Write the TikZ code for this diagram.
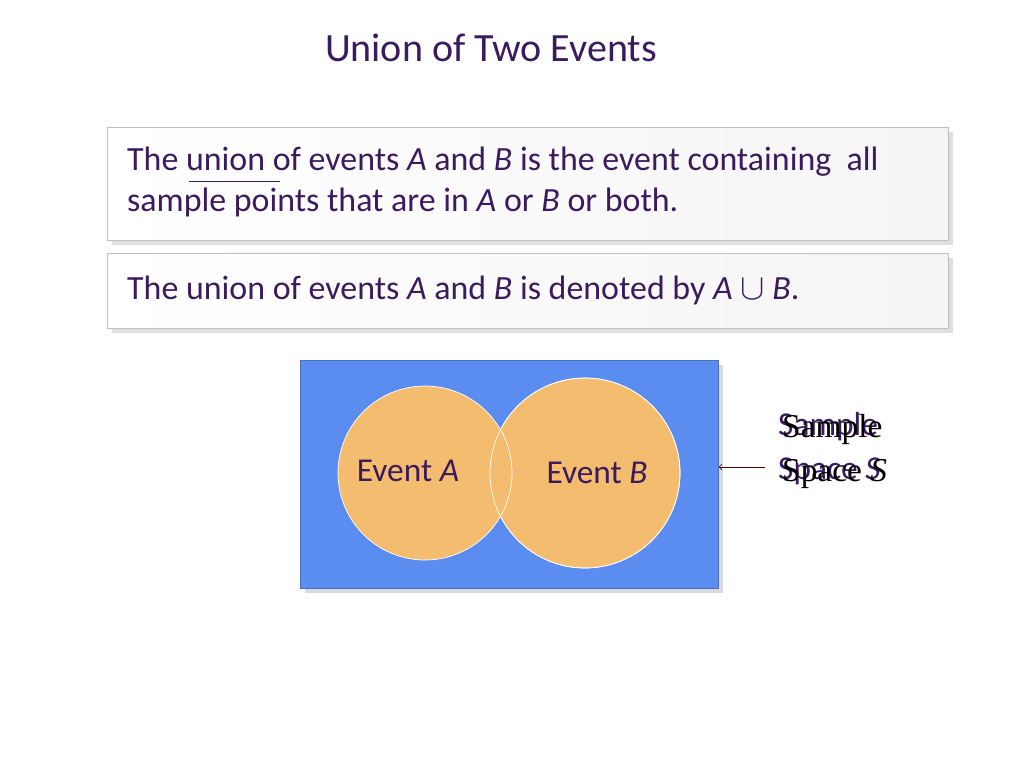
\documentclass[tikz,border=0pt]{standalone}
\usepackage{fontspec}
\setmainfont{Carlito}
\newfontfamily\serifsym{Liberation Serif}
\usetikzlibrary{shadows}
\definecolor{txtpurple}{HTML}{3B1A5E}
\definecolor{spaceblue}{HTML}{5B8CEF}
\definecolor{eventorange}{HTML}{F4BC6E}
\begin{document}
\begin{tikzpicture}[x=0.02cm,y=-0.02cm,
        textbox/.style={draw=black!25, fill=white, drop shadow={opacity=0.25},
            left color=white, right color=black!4, anchor=north west,
            inner sep=0pt},
        eventcircle/.style={circle, draw=white, fill=eventorange, inner sep=0pt}
    ]
    \useasboundingbox (0,0) rectangle (1024,768);
    \node[text=txtpurple, font=\fontsize{22.8}{26}\selectfont] (title) at (491,48) {Union of Two Events};
    % definition boxes
    \node[textbox, minimum width=841*0.02cm, minimum height=113*0.02cm] (def) at (107,127) {};
    \node[text=txtpurple, anchor=west, align=left, font=\fontsize{19.3}{23}\selectfont] (deftext) at (121,182)
        {The union of events \textit{A} and \textit{B} is the event containing\ \ all\\sample points that are in \textit{A} or \textit{B} or both.};
    \draw[txtpurple] (189,181) -- (280,181);
    \node[textbox, minimum width=841*0.02cm, minimum height=75*0.02cm] (note) at (107,253) {};
    \node[text=txtpurple, anchor=west, font=\fontsize{19.3}{23}\selectfont] (notetext) at (121,290)
        {The union of events \textit{A} and \textit{B} is denoted by \textit{A} $\cup$ \textit{B}.};
    % sample space
    \node[draw=spaceblue!80!black, fill=spaceblue, minimum width=418*0.02cm, minimum height=228*0.02cm,
        anchor=north west, drop shadow={opacity=0.3}] (space) at (300,360) {};
    \node[eventcircle, minimum size=190*0.02cm] (evB) at (585,473) {};
    \node[eventcircle, minimum size=174*0.02cm] (evA) at (425,473) {};
    \draw[white] (evB.center) circle (95);
    \node[text=txtpurple, font=\fontsize{19}{22}\selectfont] (labA) at (408,471) {Event \textit{A}};
    \node[text=txtpurple, font=\fontsize{19}{22}\selectfont] (labB) at (597,473) {Event \textit{B}};
    % label of S
    \node[anchor=west, align=left, text=txtpurple, font=\fontsize{19}{25}\selectfont] (lblS) at (772,449) {Sample\\Space \textit{S}};
    \node[anchor=west, align=left, font=\serifsym\fontsize{19}{25}\selectfont] (lblSserif) at (776,451) {Sample\\Space \textit{S}};
    \coordinate (arrS) at (765,467);
    \draw[->, black!70!red, thin] (arrS) -- (space.east |- arrS);
\end{tikzpicture}
\end{document}
